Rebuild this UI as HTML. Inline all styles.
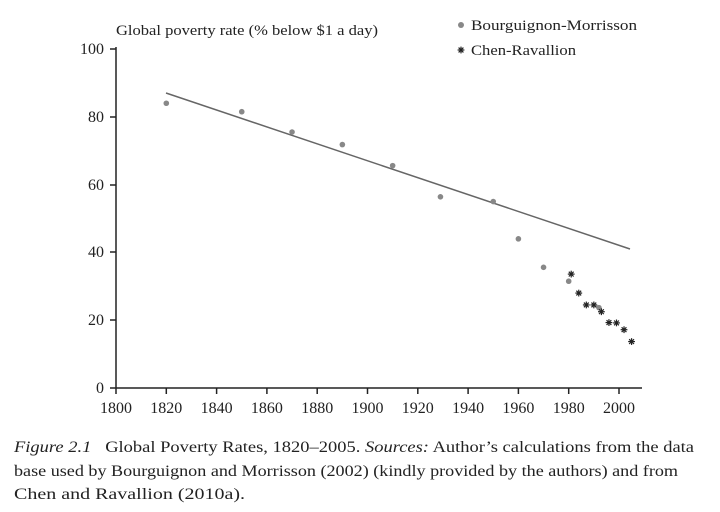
<!DOCTYPE html>
<html><head><style>
body{margin:0;background:#fff;width:720px;height:512px;overflow:hidden;font-family:"Liberation Serif",serif;}
svg text{font-family:"Liberation Serif",serif;fill:#222;}
</style></head><body>
<svg width="720" height="512" style="position:absolute;left:0;top:0">
<g stroke="#222" stroke-width="1.5" fill="none">
<line x1="116" y1="47" x2="116" y2="388"/>
<line x1="110" y1="388" x2="642" y2="388"/>
<line x1="110" y1="49" x2="116" y2="49"/>
<line x1="110" y1="117" x2="116" y2="117"/>
<line x1="110" y1="185" x2="116" y2="185"/>
<line x1="110" y1="252" x2="116" y2="252"/>
<line x1="110" y1="320" x2="116" y2="320"/>
</g>
<g stroke="#222" stroke-width="1.5" id="xt"></g>
<g font-size="16" text-anchor="end">
<text x="104" y="54">100</text><text x="104" y="122">80</text><text x="104" y="190">60</text>
<text x="104" y="257">40</text><text x="104" y="325">20</text><text x="104" y="393">0</text>
</g>
<g font-size="16" text-anchor="middle" id="xl"></g>
<text x="116" y="35" font-size="15" textLength="262" lengthAdjust="spacingAndGlyphs">Global poverty rate (% below $1 a day)</text>
<circle cx="461" cy="25" r="3" fill="#888"/>
<text x="471" y="30" font-size="15" textLength="166" lengthAdjust="spacingAndGlyphs">Bourguignon-Morrisson</text>
<g id="leg"></g>
<text x="471" y="55" font-size="15" textLength="105" lengthAdjust="spacingAndGlyphs">Chen-Ravallion</text>
<line x1="166" y1="93" x2="630" y2="249" stroke="#666" stroke-width="1.5"/>
<g fill="#888" id="pts"></g>
<g stroke="#222" stroke-width="1.2" id="st"></g>
<g font-size="16.2">
<text x="14" y="452" textLength="680" lengthAdjust="spacingAndGlyphs"><tspan font-style="italic">Figure 2.1</tspan>&#160;&#160;&#160;Global Poverty Rates, 1820–2005. <tspan font-style="italic">Sources:</tspan> Author’s calculations from the data</text>
<text x="14" y="476" textLength="664" lengthAdjust="spacingAndGlyphs">base used by Bourguignon and Morrisson (2002) (kindly provided by the authors) and from</text>
<text x="14" y="499" textLength="231" lengthAdjust="spacingAndGlyphs">Chen and Ravallion (2010a).</text>
</g>
</svg>
<script>
var X=y=>116+(y-1800)*2.515, Y=v=>388-v*3.39, ns="http://www.w3.org/2000/svg";
function star(g,cx,cy,r){for(var k=0;k<4;k++){var a=k*Math.PI/4,l=document.createElementNS(ns,"line");l.setAttribute("x1",cx-r*Math.cos(a));l.setAttribute("x2",cx+r*Math.cos(a));l.setAttribute("y1",cy-r*Math.sin(a));l.setAttribute("y2",cy+r*Math.sin(a));g.appendChild(l);}}
for(var y=1800;y<=2000;y+=20){var l=document.createElementNS(ns,"line");l.setAttribute("x1",X(y));l.setAttribute("x2",X(y));l.setAttribute("y1",388);l.setAttribute("y2",394);document.getElementById("xt").appendChild(l);
var t=document.createElementNS(ns,"text");t.setAttribute("x",X(y));t.setAttribute("y",413);t.textContent=y;document.getElementById("xl").appendChild(t);}
[[1820,84],[1850,81.5],[1870,75.5],[1890,71.8],[1910,65.6],[1929,56.4],[1950,55],[1960,44],[1970,35.6],[1980,31.5],[1992,23.7]].forEach(p=>{var c=document.createElementNS(ns,"circle");c.setAttribute("cx",X(p[0]));c.setAttribute("cy",Y(p[1]));c.setAttribute("r",2.8);document.getElementById("pts").appendChild(c);});
var sg=document.getElementById("st");
[[1981,33.6],[1984,28],[1987,24.5],[1990,24.5],[1993,22.5],[1996,19.3],[1999,19.2],[2002,17.2],[2005,13.7]].forEach(p=>star(sg,X(p[0]),Y(p[1]),3.4));
var lg=document.getElementById("leg");lg.setAttribute("stroke","#222");lg.setAttribute("stroke-width","1.2");star(lg,461,50,3.4);
</script>
</body></html>
